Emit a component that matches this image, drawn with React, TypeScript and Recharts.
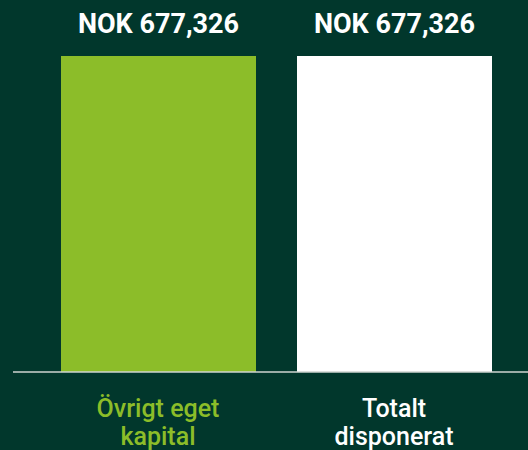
import React from "react";
import { BarChart, Bar, XAxis, YAxis, Cell, LabelList } from "recharts";

const categories = ["Övrigt eget kapital", "Totalt disponerat"];
const tickLines = [["Övrigt eget", "kapital"], ["Totalt", "disponerat"]];
const values = [677326, 677326];
const valueLabels = ["NOK 677,326", "NOK 677,326"];
const barColors = ["#8cbd29", "#ffffff"];

const data = categories.map((c, i) => ({ name: c, value: values[i], label: valueLabels[i] }));

const BG = "#01372c";

const Tick = (props: any) => {
  const { x, y, payload } = props;
  const idx = categories.indexOf(payload.value);
  const lines = tickLines[idx] || [payload.value];
  return (
    <text
      x={x}
      y={y}
      textAnchor="middle"
      fill={barColors[idx]}
      fontFamily="Roboto"
      fontWeight={500}
      fontSize={25}
    >
      {lines.map((l: string, i: number) => (
        <tspan key={i} x={x} dy={i === 0 ? 37 : 28}>
          {l}
        </tspan>
      ))}
    </text>
  );
};

export default function App() {
  return (
    <div style={{ position: "absolute", left: 0, top: 0, width: 528, height: 450, background: BG }}>
      <BarChart
        width={528}
        height={450}
        data={data}
        margin={{ top: 56, right: 0, bottom: 0, left: 13 }}
      >
        <YAxis hide domain={[0, 677326]} />
        <XAxis
          dataKey="name"
          height={78}
          padding={{ left: 27, right: 16 }}
          axisLine={{ stroke: "#cfd4d0", strokeWidth: 1.5 }}
          tickLine={false}
          tick={<Tick />}
          interval={0}
        />
        <Bar dataKey="value" barSize={195} isAnimationActive={false}>
          {data.map((d, i) => (
            <Cell key={i} fill={barColors[i]} />
          ))}
          <LabelList
            dataKey="label"
            position="top"
            offset={23}
            fill="#ffffff"
            fontFamily="Roboto"
            fontWeight={700}
            fontSize={27}
          />
        </Bar>
      </BarChart>
    </div>
  );
}
